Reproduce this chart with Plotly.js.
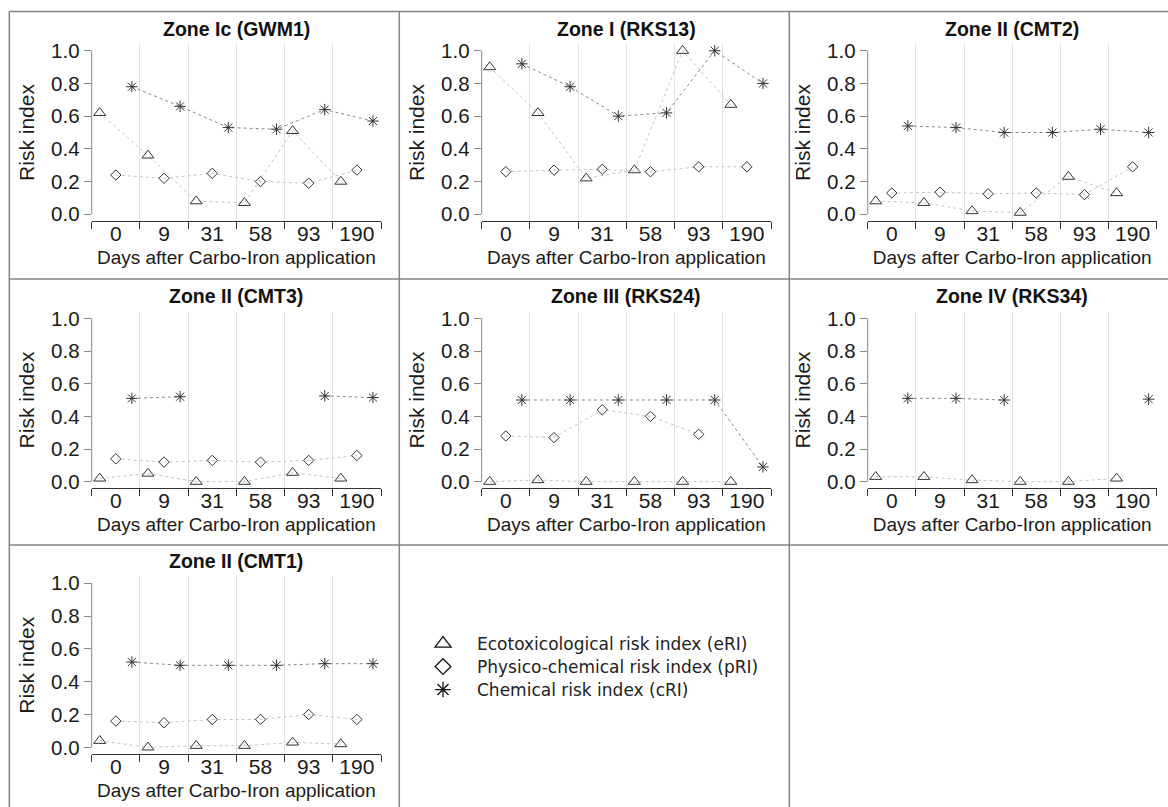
<!DOCTYPE html>
<html><head><meta charset="utf-8">
<script src="https://cdn.plot.ly/plotly-3.0.1.min.js"></script>
<style>html,body{margin:0;padding:0;background:#fff}#chart{width:1168px;height:807px}</style>
</head><body><div id="chart"></div>
<script>
// ---- data ----
const days = ['0', '9', '31', '58', '93', '190'];
const seriesNames = ['Ecotoxicological risk index (eRI)', 'Physico-chemical risk index (pRI)', 'Chemical risk index (cRI)'];
const panelTitles = ['Zone Ic (GWM1)', 'Zone I (RKS13)', 'Zone II (CMT2)', 'Zone II (CMT3)', 'Zone III (RKS24)', 'Zone IV (RKS34)', 'Zone II (CMT1)'];

const gwm1_eRI = [0.62, 0.36, 0.08, 0.07, 0.51, 0.20];
const gwm1_pRI = [0.24, 0.22, 0.25, 0.20, 0.19, 0.27];
const gwm1_cRI = [0.78, 0.66, 0.53, 0.52, 0.64, 0.57];

const rks13_eRI = [0.90, 0.62, 0.22, 0.27, 1.00, 0.67];
const rks13_pRI = [0.26, 0.27, 0.275, 0.26, 0.29, 0.29];
const rks13_cRI = [0.92, 0.78, 0.60, 0.62, 1.00, 0.80];

const cmt2_eRI = [0.08, 0.07, 0.02, 0.01, 0.23, 0.13];
const cmt2_pRI = [0.13, 0.135, 0.125, 0.13, 0.12, 0.29];
const cmt2_cRI = [0.54, 0.53, 0.50, 0.50, 0.52, 0.50];

const cmt3_eRI = [0.02, 0.05, 0.00, 0.00, 0.055, 0.02];
const cmt3_pRI = [0.14, 0.12, 0.13, 0.12, 0.13, 0.16];
const cmt3_cRI = [0.51, 0.52, null, null, 0.525, 0.515];

const rks24_eRI = [0.00, 0.01, 0.00, 0.00, 0.00, 0.00];
const rks24_pRI = [0.28, 0.27, 0.44, 0.40, 0.29, null];
const rks24_cRI = [0.50, 0.50, 0.50, 0.50, 0.50, 0.09];

const rks34_eRI = [0.03, 0.03, 0.01, 0.00, 0.00, 0.02];
const rks34_pRI = [null, null, null, null, null, null];
const rks34_cRI = [0.51, 0.51, 0.50, null, null, 0.505];

const cmt1_eRI = [0.04, 0.00, 0.01, 0.01, 0.03, 0.02];
const cmt1_pRI = [0.16, 0.15, 0.17, 0.17, 0.20, 0.17];
const cmt1_cRI = [0.52, 0.50, 0.50, 0.50, 0.51, 0.51];

const panelSeries = [
  [gwm1_eRI, gwm1_pRI, gwm1_cRI],
  [rks13_eRI, rks13_pRI, rks13_cRI],
  [cmt2_eRI, cmt2_pRI, cmt2_cRI],
  [cmt3_eRI, cmt3_pRI, cmt3_cRI],
  [rks24_eRI, rks24_pRI, rks24_cRI],
  [rks34_eRI, rks34_pRI, rks34_cRI],
  [cmt1_eRI, cmt1_pRI, cmt1_cRI]
];

// ---- styles ----
const W = 1168, H = 807;
const FONT = '"Liberation Sans", Arial, sans-serif';
const seriesStyle = [
  {offset: -1/3, symbol: 'triangle-up-open', size: 10.5, lineColor: '#c4c4c4', legendSize: 14},
  {offset: 0,    symbol: 'diamond-open',     size: 8,    lineColor: '#c4c4c4', legendSize: 12},
  {offset: 1/3,  symbol: 'asterisk-open',    size: 9.5,  lineColor: '#8a8a8a', legendSize: 13}
];
const colLeft = [91.7, 481.7, 867.7], colRight = [381, 771, 1156.7];
const rowTop = [44.2, 311.8, 576.7], rowBottom = [220.8, 488.2, 753.9];
const legendRowY = [644, 667, 690];

const traces = [];
const layout = {
  width: W, height: H,
  margin: {l: 0, r: 0, t: 0, b: 0},
  paper_bgcolor: '#fff', plot_bgcolor: '#fff',
  showlegend: true,
  font: {family: FONT, color: '#1a1a1a'},
  annotations: [], shapes: []
};
const legendKeys = ['legend', 'legend2', 'legend3'];
legendKeys.forEach((k, s) => {
  layout[k] = {
    x: 409 / W, y: 1 - legendRowY[s] / H, xanchor: 'left', yanchor: 'middle',
    font: {family: '"DejaVu Sans", Verdana, sans-serif', size: 17, color: '#222'},
    bgcolor: 'rgba(0,0,0,0)', borderwidth: 0, itemwidth: 58
  };
});

const boundaries = days.map((d, i) => i - 0.5).concat([days.length - 0.5]);

panelSeries.forEach((series, p) => {
  const col = p % 3, row = Math.floor(p / 3);
  const xa = p === 0 ? 'x' : 'x' + (p + 1);
  const ya = p === 0 ? 'y' : 'y' + (p + 1);
  const xk = p === 0 ? 'xaxis' : 'xaxis' + (p + 1);
  const yk = p === 0 ? 'yaxis' : 'yaxis' + (p + 1);

  series.forEach((vals, s) => {
    const st = seriesStyle[s];
    traces.push({
      type: 'scatter', mode: 'lines+markers',
      x: days.map((d, i) => i + st.offset), y: vals,
      xaxis: xa, yaxis: ya, showlegend: false, cliponaxis: false, hoverinfo: 'skip',
      line: {color: st.lineColor, width: 1, dash: 'dot'},
      marker: {symbol: st.symbol, size: st.size, color: '#333', line: {color: '#333', width: 1}}
    });
  });

  layout[xk] = {
    domain: [colLeft[col] / W, colRight[col] / W],
    range: [-0.5, days.length - 0.5], anchor: ya, fixedrange: true, automargin: false,
    tickmode: 'array', tickvals: days.map((d, i) => i), ticktext: days,
    ticks: '', ticklabelstandoff: -6,
    tickfont: {family: FONT, size: 21, color: '#1a1a1a'},
    showgrid: false, zeroline: false,
    showline: true, linecolor: '#333', linewidth: 1,
    minor: {tickmode: 'array', tickvals: boundaries, ticks: 'outside', ticklen: 7,
            tickcolor: '#333', tickwidth: 1, showgrid: true, gridcolor: '#e2e2e2', gridwidth: 1},
    title: {text: 'Days after Carbo-Iron application', font: {family: FONT, size: 19, color: '#1a1a1a'}, standoff: 6}
  };
  layout[yk] = {
    domain: [1 - rowBottom[row] / H, 1 - rowTop[row] / H],
    range: [-0.04, 1.04], anchor: xa, fixedrange: true, automargin: false,
    tickmode: 'linear', tick0: 0, dtick: 0.2, tickformat: '.1f',
    ticks: 'outside', ticklen: 7, tickcolor: '#888', tickwidth: 1,
    tickfont: {family: FONT, size: 20.5, color: '#1a1a1a'},
    showgrid: false, zeroline: false, showline: false,
    title: {text: 'Risk index', font: {family: FONT, size: 21, color: '#1a1a1a'}, standoff: 10}
  };
  // y axis line spanning the tick range only
  layout.shapes.push({type: 'line', xref: xa + ' domain', x0: 0, x1: 0, yref: ya, y0: 0, y1: 1,
                      line: {color: '#888', width: 1}});
  layout.annotations.push({
    text: '<b>' + panelTitles[p] + '</b>', showarrow: false,
    xref: xa + ' domain', x: 0.5, yref: ya + ' domain', y: 1, yanchor: 'middle', yshift: 15.5,
    font: {family: FONT, size: 19.5, color: '#111'}
  });
});

// legend entries (one legend per row for exact spacing)
seriesStyle.forEach((st, s) => {
  traces.push({
    type: 'scatter', mode: 'markers', x: [null], y: [null], xaxis: 'x', yaxis: 'y',
    name: seriesNames[s], showlegend: true, legend: legendKeys[s], hoverinfo: 'skip',
    marker: {symbol: st.symbol, size: st.legendSize, color: '#111', line: {color: '#111', width: 1.3}}
  });
});

// cell borders
const bx = [9.3, 399.3, 789.3], by = [11.5, 279, 545];
bx.forEach(x => layout.shapes.push({type: 'line', xref: 'paper', yref: 'paper',
  x0: x / W, x1: x / W, y0: 1 - by[0] / H, y1: 0, line: {color: '#858585', width: 1.5}}));
by.forEach(y => layout.shapes.push({type: 'line', xref: 'paper', yref: 'paper',
  x0: bx[0] / W, x1: 1, y0: 1 - y / H, y1: 1 - y / H, line: {color: '#858585', width: 1.5}}));

Plotly.newPlot('chart', traces, layout, {staticPlot: true, displayModeBar: false});
</script></body></html>
